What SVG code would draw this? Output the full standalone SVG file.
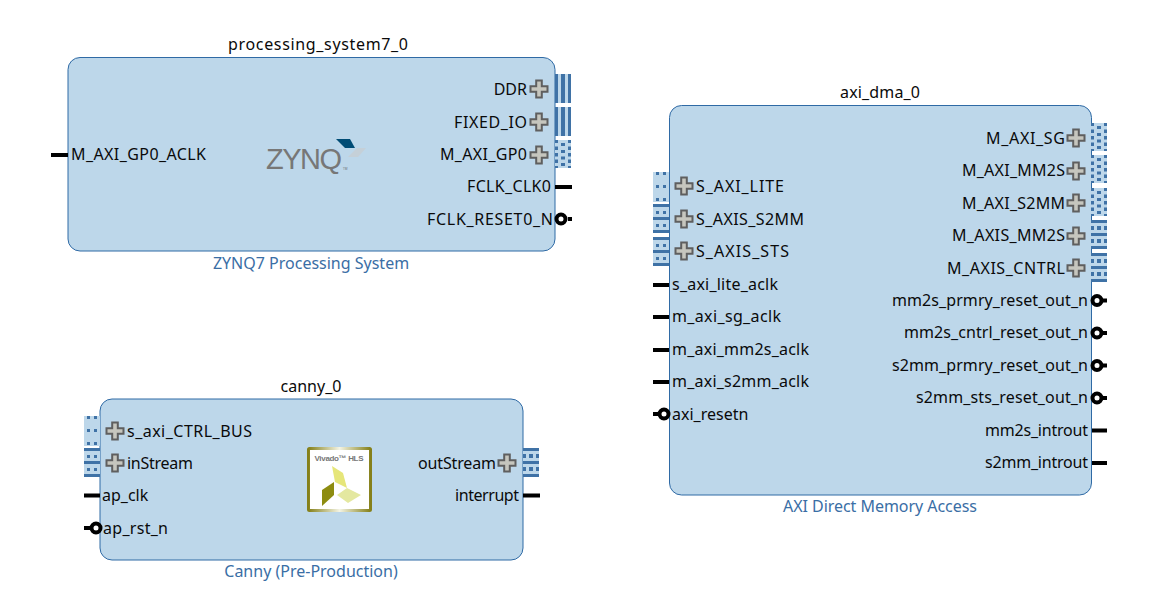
<svg xmlns="http://www.w3.org/2000/svg" width="1155" height="598" viewBox="0 0 1155 598">
<style>
text{font-family:"Noto Sans","DejaVu Sans",sans-serif;font-size:16px;fill:#0a0a0a}
.t{text-anchor:middle}
.r{text-anchor:end}
.c{text-anchor:middle;fill:#3a6ea5}
.b{fill:#bdd7ea;stroke:#2f6aa5;stroke-width:1}
.w{stroke:#000;stroke-width:4;fill:none}
.o{stroke:#000;stroke-width:4;fill:#fff}
.p{fill:#c6c6be;stroke:#5f5f5f;stroke-width:2}
</style>
<defs>
<path id="plus" class="p" d="M-2.800-8.500H2.800V-2.800H8.500V2.800H2.800V8.500H-2.800V2.800H-8.500V-2.800H-2.800Z"/>
<g id="vbus"><rect width="16" height="29" fill="#bdd7ea"/><path fill="#3f72a6" d="M0 0h3v29H0zM6 0h4v29H6zM13 0h3v29h-3z"/></g>
<g id="dotsL"><rect width="16" height="30" fill="#bdd7ea"/><path fill="#3f72a6" d="M3 0h3v3H3zM10 0h3v3h-3zM3 13h3v3H3zM10 13h3v3h-3zM3 26h3v3H3zM10 26h3v3h-3z"/></g>
<g id="streamL"><rect width="16" height="29" fill="#bdd7ea"/><path fill="#3f72a6" d="M0 0h16v3H0zM0 13h16v3H0zM0 26h16v3H0zM3 7h3v3H3zM10 7h3v3h-3zM3 20h3v3H3zM10 20h3v3h-3z"/></g>
<g id="dotsR"><rect width="16" height="28" fill="#bdd7ea"/><path fill="#3f72a6" d="M0 0h3v3H0zM13 0h3v3h-3zM6 3h4v3H6zM0 6.500h3v3.500H0zM13 6.500h3v3.500h-3zM6 10h4v3H6zM0 13h3v3.500H0zM13 13h3v3.500h-3zM6 16.500h4v3H6zM0 19.500h3v3.500H0zM13 19.500h3v3.500h-3zM6 23h4v3H6zM0 26h3v2H0zM13 26h3v2h-3z"/></g>
<g id="streamR"><rect width="16" height="29" fill="#bdd7ea"/><path fill="#3f72a6" d="M0 0h16v3H0zM0 13h16v3H0zM0 26h16v3H0zM0 6h3v4H0zM6 6h4v4H6zM13 6h3v4h-3zM0 19h3v4H0zM6 19h4v4H6zM13 19h3v4h-3z"/></g>
<linearGradient id="hlsb" x1="0" x2="1" y1="0" y2="0"><stop offset="0" stop-color="#85801a"/><stop offset=".5" stop-color="#f4f4e4"/><stop offset="1" stop-color="#85801a"/></linearGradient>
</defs>

<g id="processing_system7_0">
<text class="t" x="318" y="50" textLength="180">processing_system7_0</text>
<rect class="b" x="68" y="57.500" width="487" height="193.500" rx="12"/>
<text x="71" y="160" textLength="135">M_AXI_GP0_ACLK</text>
<text class="r" x="527" y="95">DDR</text>
<text class="r" x="527" y="128" textLength="73">FIXED_IO</text>
<text class="r" x="527" y="160" textLength="87">M_AXI_GP0</text>
<text class="r" x="551" y="192" textLength="84">FCLK_CLK0</text>
<text class="r" x="553" y="225" textLength="126">FCLK_RESET0_N</text>
<use href="#plus" x="539" y="89"/><use href="#plus" x="539" y="122"/><use href="#plus" x="539" y="155"/>
<use href="#vbus" x="555" y="74"/><use href="#vbus" x="555" y="107"/><use href="#dotsR" x="555" y="140"/>
<text x="266" y="168.500" textLength="76" style="font-family:'Liberation Sans',sans-serif;font-size:29px;fill:#777">ZYNQ</text>
<path fill="#004c75" d="M336 139h14l5 9h-10z"/>
<path fill="#c5d0d8" d="M357 148h9l-8 9h-10z"/>
<text x="343" y="169.500" style="font-size:3px;fill:#6d6e71">TM</text>
<text class="c" x="311" y="269">ZYNQ7 Processing System</text>
</g>

<g id="canny_0">
<text class="t" x="311" y="392">canny_0</text>
<rect class="b" x="100" y="399" width="423" height="161" rx="12"/>
<text x="127" y="437" textLength="125">s_axi_CTRL_BUS</text>
<text x="127" y="469" textLength="66">inStream</text>
<text x="102" y="501">ap_clk</text>
<text x="103" y="534" textLength="65">ap_rst_n</text>
<text class="r" x="496" y="469" textLength="78">outStream</text>
<text class="r" x="519" y="501" textLength="64">interrupt</text>
<use href="#plus" x="115" y="431"/><use href="#plus" x="115" y="463"/><use href="#plus" x="507" y="463"/>
<use href="#dotsL" x="84" y="416"/><use href="#streamL" x="84" y="448"/><use href="#streamR" x="523" y="448"/>
<rect x="308.500" y="448.500" width="62" height="62" fill="#fff" stroke="url(#hlsb)" stroke-width="3" rx="1"/>
<text x="339" y="461" text-anchor="middle" textLength="49" style="font-family:'Liberation Sans',sans-serif;font-size:8px;font-weight:bold;fill:#777">Vivado™ HLS</text>
<path fill="#e6e67a" d="M332 466l11 7 4 15-12-6z"/>
<path fill="#8d8c10" d="M334 482v13l-12 11v-16z"/>
<path fill="#e4e8a0" d="M337 495l10-7 14 7-13 8z"/>
<text class="c" x="311" y="577">Canny (Pre-Production)</text>
</g>

<g id="axi_dma_0">
<text class="t" x="880" y="98" textLength="80">axi_dma_0</text>
<rect class="b" x="669.500" y="105.500" width="422" height="389.500" rx="12"/>
<use href="#dotsL" x="653" y="172"/><use href="#streamL" x="653" y="204"/><use href="#streamL" x="653" y="237"/>
<use href="#plus" x="684" y="186"/><use href="#plus" x="684" y="219"/><use href="#plus" x="684" y="251"/>
<text x="696" y="192" textLength="88">S_AXI_LITE</text>
<text x="696" y="225" textLength="108">S_AXIS_S2MM</text>
<text x="696" y="257" textLength="93">S_AXIS_STS</text>
<text x="672" y="290" textLength="106">s_axi_lite_aclk</text>
<text x="672" y="322" textLength="109">m_axi_sg_aclk</text>
<text x="672" y="355" textLength="137">m_axi_mm2s_aclk</text>
<text x="672" y="387" textLength="137">m_axi_s2mm_aclk</text>
<text x="672" y="420">axi_resetn</text>
<text class="r" x="1065" y="144" textLength="79">M_AXI_SG</text>
<text class="r" x="1065" y="176" textLength="103">M_AXI_MM2S</text>
<text class="r" x="1065" y="209" textLength="103">M_AXI_S2MM</text>
<text class="r" x="1065" y="241" textLength="113">M_AXIS_MM2S</text>
<text class="r" x="1065" y="274" textLength="118">M_AXIS_CNTRL</text>
<text class="r" x="1088" y="306" textLength="196">mm2s_prmry_reset_out_n</text>
<text class="r" x="1088" y="338" textLength="184">mm2s_cntrl_reset_out_n</text>
<text class="r" x="1088" y="371" textLength="196">s2mm_prmry_reset_out_n</text>
<text class="r" x="1088" y="403" textLength="172">s2mm_sts_reset_out_n</text>
<text class="r" x="1088" y="436" textLength="103">mm2s_introut</text>
<text class="r" x="1088" y="468" textLength="103">s2mm_introut</text>
<use href="#plus" x="1076" y="138"/><use href="#plus" x="1076" y="171"/><use href="#plus" x="1076" y="203"/><use href="#plus" x="1076" y="236"/><use href="#plus" x="1076" y="268"/>
<use href="#dotsR" x="1091" y="123"/><use href="#dotsR" x="1091" y="155"/><use href="#dotsR" x="1091" y="188"/><use href="#streamR" x="1091" y="220"/><use href="#streamR" x="1091" y="253"/>
<text class="c" x="880" y="512" textLength="194">AXI Direct Memory Access</text>
</g>

<g id="connectors">
<path class="w" d="M51 155H68M555 187H572M84 495.500H100M523 495.500H540M653 285H669M653 317H669M653 350H669M653 382H669M1092 430.500H1107M1092 463H1107"/>
<path class="w" d="M84 528H92M568 219H572M653 414H660M1103 300.500H1107M1103 333H1107M1103 365.500H1107M1103 398H1107"/>
<circle class="o" cx="561" cy="219" r="4.500"/>
<circle class="o" cx="96" cy="528" r="4.500"/>
<circle class="o" cx="664" cy="414" r="4.500"/>
<circle class="o" cx="1097" cy="300.500" r="4.500"/>
<circle class="o" cx="1097" cy="333" r="4.500"/>
<circle class="o" cx="1097" cy="365.500" r="4.500"/>
<circle class="o" cx="1097" cy="398" r="4.500"/>
</g>
</svg>
